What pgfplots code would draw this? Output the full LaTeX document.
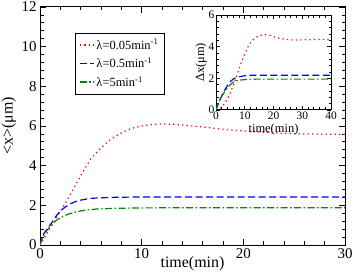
\documentclass[border=0pt]{standalone}
\usepackage{fontspec}
\setmainfont{Liberation Serif}
\usepackage{pgfplots}
\pgfplotsset{compat=1.18}
\definecolor{mygreen}{RGB}{0,140,0}
\definecolor{myred}{RGB}{255,0,0}
\definecolor{myblue}{RGB}{0,0,255}
\tikzset{
  reddot/.style={draw=myred, line width=1.2bp, dash pattern=on 1.3bp off 3.2bp},
  bluedash/.style={draw=myblue, line width=1.2bp, dash pattern=on 7bp off 3.5bp},
  greendd/.style={draw=mygreen, line width=1.2bp, dash pattern=on 7bp off 2.5bp on 1.5bp off 2.5bp},
}
\begin{document}
\begin{tikzpicture}
\begin{axis}[
  at={(40bp,28bp)}, anchor=south west,
  width=305bp, height=238bp, scale only axis,
  xmin=0, xmax=30, ymin=0, ymax=12,
  xtick={0,10,20,30}, ytick={0,2,...,12},
  minor x tick num=4, minor y tick num=4,
  tick align=inside,
  major tick length=6bp, minor tick length=3.5bp,
  axis line style={line width=1bp},
  every tick/.style={line width=0.8bp, black},
  /pgf/number format/assume math mode=true,
  ticklabel style={font=\fontsize{15}{15}\selectfont},
  xlabel={time(min)}, ylabel={<x>(μm)},
  label style={font=\fontsize{16}{16}\selectfont},
  xlabel style={at={(axis description cs:0.5,-0.08)}, anchor=center},
  ylabel style={at={(axis description cs:-0.102,0.5)}, anchor=center},
  legend style={at={(axis description cs:0.115,0.891)}, anchor=north west,
    draw=black, font=\fontsize{12.5}{12.5}\selectfont,
    row sep=3bp, inner xsep=4bp, inner ysep=4bp, cells={anchor=west}},
  legend image code/.code={\draw[#1, line width=1.2bp] (0bp,0bp) -- (14bp,0bp);},
]
\addplot[reddot] coordinates {
 (0,0) (1,0.85) (2,1.7) (3,2.55) (4,3.5) (5,4.35) (6,4.9) (7,5.35) (8,5.65)
 (9,5.88) (10,6.0) (11,6.08) (12,6.1) (13,6.09) (14,6.05) (16,5.95) (18,5.84)
 (20,5.75) (22,5.68) (24,5.63) (26,5.6) (28,5.59) (30,5.58)};
\addlegendentry{λ=0.05min\textsuperscript{-1}}
\addplot[bluedash] coordinates {
 (0,0) (0.25,0.45) (0.5,0.67) (0.8,0.87) (1.2,1.15) (1.5,1.4) (2,1.72)
 (2.5,1.92) (3,2.08) (3.5,2.19) (4,2.26) (4.5,2.31) (5,2.35) (6,2.38)
 (7,2.4) (8,2.41) (10,2.42) (30,2.42)};
\addlegendentry{λ=0.5min\textsuperscript{-1}}
\addplot[greendd] coordinates {
 (0,0) (0.25,0.35) (0.5,0.6) (1,0.95) (1.5,1.2) (2,1.38) (2.8,1.56)
 (3.5,1.66) (4.44,1.76) (5.5,1.81) (7.4,1.85) (10,1.87) (15,1.88) (30,1.88)};
\addlegendentry{λ=5min\textsuperscript{-1}}
\end{axis}
\begin{axis}[
  at={(216bp,163bp)}, anchor=south west,
  width=115bp, height=95bp, scale only axis,
  xmin=0, xmax=40, ymin=0, ymax=6,
  xtick={0,10,...,40}, ytick={0,2,4,6},
  minor x tick num=4, minor y tick num=4,
  tick align=inside,
  major tick length=4bp, minor tick length=2.5bp,
  axis line style={line width=1bp},
  every tick/.style={line width=0.7bp, black},
  axis background/.style={fill=white},
  /pgf/number format/assume math mode=true,
  ticklabel style={font=\fontsize{11.5}{11.5}\selectfont, inner sep=1.5bp},
  xlabel={time(min)}, ylabel={Δx(μm)},
  label style={font=\fontsize{12.5}{12.5}\selectfont},
  xlabel style={at={(axis description cs:0.5,-0.21)}, anchor=center},
  ylabel style={at={(axis description cs:-0.13,0.5)}, anchor=center},
]
\addplot[reddot] coordinates {
 (0,0) (1,0.05) (2,0.2) (3,0.4) (4,0.7) (5,1.1) (6,1.55) (7,2.05) (8,2.6)
 (9,3.1) (10,3.55) (11,3.95) (12,4.25) (13,4.45) (14,4.6) (15,4.68) (16,4.73)
 (17,4.75) (18,4.74) (19,4.7) (20,4.63) (22,4.53) (24,4.46) (26,4.43)
 (28,4.42) (30,4.43) (34,4.45) (38,4.46) (40,4.45)};
\addplot[bluedash] coordinates {
 (0,0) (0.5,0.25) (1,0.5) (2,0.9) (3,1.25) (4,1.55) (5,1.8) (6,1.95)
 (7,2.05) (8,2.1) (10,2.16) (12,2.19) (15,2.2) (40,2.2)};
\addplot[greendd] coordinates {
 (0,0) (0.5,0.25) (1,0.5) (2,0.85) (3,1.15) (4,1.4) (5,1.6) (6,1.75)
 (7,1.83) (8,1.88) (10,1.92) (14,1.95) (40,1.95)};
\end{axis}
\pgfresetboundingbox
\path (0,0) rectangle (354bp,273bp);
\end{tikzpicture}
\end{document}
